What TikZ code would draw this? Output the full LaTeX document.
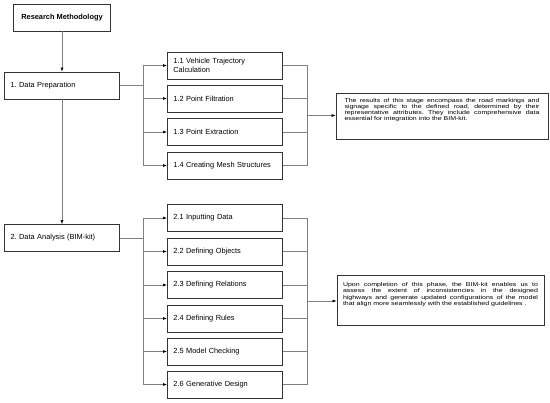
\documentclass[tikz,border=0pt]{standalone}
\usepackage{fontspec}
\usepackage{graphicx}
\setmainfont{Liberation Sans}
\frenchspacing
\usetikzlibrary{arrows.meta}
\newcommand{\notetext}[1]{\scalebox{1.25}[1]{\parbox[b]{156pt}{#1}}}
\tikzset{
	block/.style={draw=black!80,line width=0.8pt,rectangle,inner xsep=6pt,inner ysep=0pt,minimum height=27pt,font=\fontsize{7.4}{8.6}\selectfont},
	stage/.style={block,text width=103pt,align=left},
	task/.style={block,anchor=west,text width=103pt,align=left},
	note/.style={draw=black!80,line width=0.9pt,inner sep=0pt,font=\fontsize{5.6}{6.1}\selectfont},
	link/.style={draw=black!50,line width=0.6pt},
	flow/.style={link,-{Latex[length=4pt,width=3pt,color=black]}}
}
\begin{document}
\begin{tikzpicture}[x=1pt,y=-1pt]
	\useasboundingbox (0,0) rectangle (550,403);
	\node (rm) at (62,17.5) [block,minimum width=97pt,font=\bfseries\fontsize{7.4}{8.6}\selectfont]{Research Methodology};
	\node (dp) at (62,85.5) [stage]{1. Data Preparation};
	\node (da) at (62,238) [stage]{2. Data Analysis (BIM-kit)};
	\node (t11) at (167,65.5) [task]{1.1 Vehicle Trajectory\\Calculation};
	\node (t12) at (167,98.5) [task]{1.2 Point Filtration};
	\node (t13) at (167,132) [task]{1.3 Point Extraction};
	\node (t14) at (167,165.5) [task]{1.4 Creating Mesh Structures};
	\node (t21) at (167,218) [task]{2.1 Inputting Data};
	\node (t22) at (167,251.5) [task]{2.2 Defining Objects};
	\node (t23) at (167,285) [task]{2.3 Defining Relations};
	\node (t24) at (167,318.5) [task]{2.4 Defining Rules};
	\node (t25) at (167,351.5) [task]{2.5 Model Checking};
	\node (t26) at (167,384.5) [task]{2.6 Generative Design};
	\node (n1) at (442,116) [note,minimum width=212pt,text height=27.5pt,text depth=18.5pt]{\notetext{The results of this stage encompass the road markings and\linebreak signage specific to the defined road, determined by their\linebreak representative attributes. They include comprehensive data\linebreak essential for integration into the BIM-kit.}};
	\node (n2) at (440.5,300) [note,minimum width=207pt,text height=30.2pt,text depth=19.8pt]{\notetext{Upon completion of this phase, the BIM-kit enables us to\linebreak assess the extent of inconsistencies in the designed\linebreak highways and generate updated configurations of the model\linebreak that align more seamlessly with the established guidelines .}};
	\coordinate (f1) at (143,85.5);
	\coordinate (f2) at (143,238);
	\coordinate (b1) at (307,115.5);
	\coordinate (b2) at (307,301);
	\draw[flow] (rm) -- (dp);
	\draw[flow] (dp) -- (da);
	\draw[link] (dp.east) -- (f1);
	\draw[flow] (f1) |- (t11.west);
	\draw[flow] (f1) |- (t12.west);
	\draw[flow] (f1) |- (t13.west);
	\draw[flow] (f1) |- (t14.west);
	\draw[link] (da.east) -- (f2);
	\draw[flow] (f2) |- (t21.west);
	\draw[flow] (f2) |- (t22.west);
	\draw[flow] (f2) |- (t23.west);
	\draw[flow] (f2) |- (t24.west);
	\draw[flow] (f2) |- (t25.west);
	\draw[flow] (f2) |- (t26.west);
	\draw[link] (t11.east) -| (b1);
	\draw[link] (t12.east) -| (b1);
	\draw[link] (t13.east) -| (b1);
	\draw[link] (t14.east) -| (b1);
	\draw[flow] (b1) -- (b1 -| n1.west);
	\draw[link] (t21.east) -| (b2);
	\draw[link] (t22.east) -| (b2);
	\draw[link] (t23.east) -| (b2);
	\draw[link] (t24.east) -| (b2);
	\draw[link] (t25.east) -| (b2);
	\draw[link] (t26.east) -| (b2);
	\draw[flow] (b2) -- (b2 -| n2.west);
\end{tikzpicture}
\end{document}
